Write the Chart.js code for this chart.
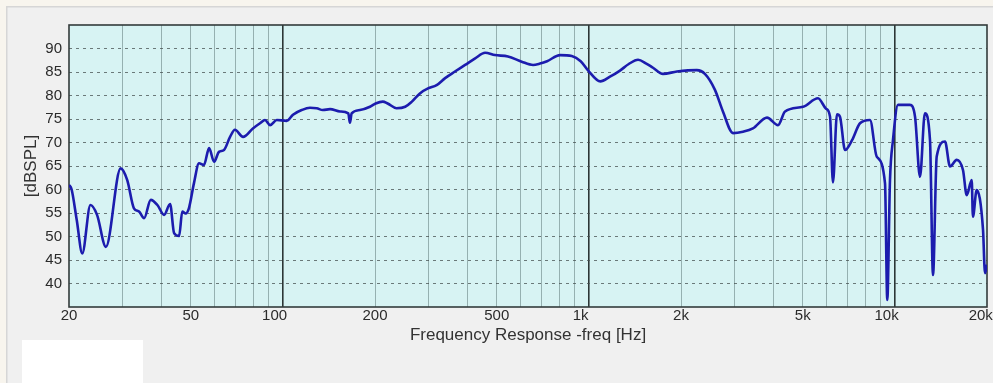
<!DOCTYPE html>
<html><head><meta charset="utf-8">
<script src="https://cdn.jsdelivr.net/npm/chart.js@4.4.1/dist/chart.umd.min.js"></script>
<style>html,body{margin:0;padding:0;background:#f0f0f0;overflow:hidden}#wrap{position:relative;width:993px;height:383px}</style>
</head><body><div id="wrap"><canvas id="c" width="993" height="383"></canvas></div>
<script>
// Frequency (Hz) of each measured point
const freqHz = [20,20.4,21.2,22.1,23.5,24.7,26.4,29.5,31.0,32.6,33.9,35.2,37.0,38.9,40.9,42.8,44.1,45.8,46.9,48.1,49.3,51.2,53.2,55.2,57.4,59.6,61.8,64.2,67.2,69.7,74.1,79.8,84.2,87.4,90.8,95.5,102.9,107.9,115.2,122.6,129,135,142.6,153.7,163.6,165.6,167.8,178.6,192.6,201,212,220,235,251,264,281,298,318,339,365,394,425,458,493,544,603,657,692,730,805,879,940,995,1090,1172,1264,1350,1448,1540,1620,1746,1940,2254,2394,2582,2742,2958,3188,3436,3820,4150,4376,5010,5608,5956,6138,6276,6468,6616,6872,7244,7692,8292,8722,9284,9444,9638,9858,10234,11196,11636,12080,12532,13024,13322,13698,14582,15138,15920,16698,17170,17826,17990,18508,19410,19702,20000];
// Sound pressure level (dBSPL) at each frequency
const splDb = [61.0,60.0,53.5,46.4,56.7,54.6,47.8,64.5,62.0,56.0,55.3,53.9,57.8,56.7,54.6,56.9,50.7,50.1,55.3,54.9,56.0,61.3,65.6,65.2,68.8,65.9,68.0,68.4,71.2,72.7,71.2,73.0,74.1,74.8,73.7,74.8,74.6,75.9,76.9,77.4,77.3,76.9,77.1,76.6,76.2,74.2,76.2,76.9,77.6,78.3,78.7,78.3,77.3,77.6,78.7,80.5,81.5,82.2,83.7,85.1,86.5,87.9,89.1,88.6,88.3,87.2,86.5,86.8,87.3,88.6,88.4,87.3,85.3,83.0,84.0,85.3,86.7,87.6,86.8,85.9,84.6,85.1,85.4,84.6,81.2,76.6,72.0,72.3,73.0,75.3,73.7,76.6,77.6,79.4,77.2,75.5,61.5,76.0,75.5,68.4,70.5,74.1,74.8,67.0,61.3,36.5,62.0,70.5,78.0,78.0,75.5,62.7,76.2,70.5,41.8,67.0,70.2,64.9,66.3,64.1,58.8,62.0,54.2,59.9,51.4,42.2,44.0];
// X grid positions and labelled ticks
const xGridValues = [20,30,40,50,60,70,80,90,100,200,300,400,500,600,700,800,900,1000,2000,3000,4000,5000,6000,7000,8000,9000,10000,20000];
const xTickValues = [20,50,100,200,500,1000,2000,5000,10000,20000];
const xTickLabels = ['20','50','100    ','200','500','1k    ','2k','5k','10k    ','20k   '];
const decadeValues = [100,1000,10000];
const yTickValues = [40,45,50,55,60,65,70,75,80,85,90];

const bgPlugin = {
  id: 'bg',
  beforeDraw(chart) {
    const ctx = chart.ctx, a = chart.chartArea;
    ctx.save();
    ctx.fillStyle = '#f0f0f0'; ctx.fillRect(0, 0, 993, 383);
    ctx.fillStyle = '#f8f5ee'; ctx.fillRect(0, 0, 993, 6); ctx.fillRect(0, 0, 6, 383);
    ctx.fillStyle = '#d6d6d6'; ctx.fillRect(6, 6, 987, 1.5); ctx.fillRect(6, 6, 1.5, 377);
    ctx.fillStyle = '#ffffff'; ctx.fillRect(22, 340, 121, 43);
    ctx.fillStyle = '#d7f3f3'; ctx.fillRect(a.left, a.top, a.right - a.left, a.bottom - a.top);
    ctx.restore();
  },
  beforeDatasetsDraw(chart) {
    const ctx = chart.ctx, a = chart.chartArea;
    ctx.save();
    ctx.strokeStyle = '#333b3b'; ctx.lineWidth = 1.6;
    ctx.strokeRect(a.left, a.top, a.right - a.left, a.bottom - a.top);
    ctx.restore();
  }
};

new Chart(document.getElementById('c'), {
  type: 'line',
  data: {
    datasets: [{
      data: freqHz.map((f, i) => ({ x: f, y: splDb[i] })),
      borderColor: '#1c1cae',
      borderWidth: 2.6,
      pointRadius: 0,
      fill: false,
      cubicInterpolationMode: 'monotone'
    }]
  },
  options: {
    responsive: false,
    animation: false,
    devicePixelRatio: 1,
    layout: { padding: { top: 25, right: 6, left: 0, bottom: 0 } },
    plugins: { legend: { display: false }, tooltip: { enabled: false } },
    scales: {
      x: {
        type: 'logarithmic',
        min: 20, max: 20000,
        afterBuildTicks(s) { s.ticks = xGridValues.map(v => ({ value: v })); },
        afterFit(s) { s.height = 76; s.paddingLeft = 0; s.paddingRight = 0; },
        ticks: {
          autoSkip: false, maxRotation: 0, minRotation: 0, padding: 0,
          color: '#2b2b2b', font: { family: 'Liberation Sans, Arial, sans-serif', size: 15 },
          callback(v) { const i = xTickValues.indexOf(v); return i >= 0 ? xTickLabels[i] : ''; }
        },
        grid: {
          drawTicks: false,
          color(ctx) {
            const v = ctx.tick && ctx.tick.value;
            if (v === 20 || v === 20000) return 'rgba(0,0,0,0)';
            return decadeValues.includes(v) ? '#2c3636' : 'rgba(95,120,120,0.55)';
          },
          lineWidth(ctx) { const v = ctx.tick && ctx.tick.value; return decadeValues.includes(v) ? 1.6 : 1; }
        },
        border: { display: false },
        title: {
          display: true, text: 'Frequency Response -freq [Hz]', color: '#333',
          font: { family: 'Liberation Sans, Arial, sans-serif', size: 17 },
          padding: { top: 0, bottom: 37.8 }
        }
      },
      y: {
        type: 'linear', min: 35, max: 95,
        afterBuildTicks(s) { s.ticks = [35].concat(yTickValues, [95]).map(v => ({ value: v })); },
        afterFit(s) { s.width = 69; s.paddingTop = 0; s.paddingBottom = 0; },
        ticks: {
          padding: 7, color: '#2b2b2b',
          font: { family: 'Liberation Sans, Arial, sans-serif', size: 15 },
          callback(v) { return yTickValues.includes(v) ? String(v) : ''; }
        },
        grid: {
          drawTicks: false,
          color(ctx) { const v = ctx.tick && ctx.tick.value; return (v === 35 || v === 95) ? 'rgba(0,0,0,0)' : 'rgba(70,80,80,0.75)'; },
          lineWidth: 1
        },
        border: { display: false, dash: [3, 4] },
        title: {
          display: true, text: '[dBSPL]', color: '#333',
          font: { family: 'Liberation Sans, Arial, sans-serif', size: 17 },
          padding: { top: 21, bottom: 0 }
        }
      }
    }
  },
  plugins: [bgPlugin]
});
</script>
</body></html>
